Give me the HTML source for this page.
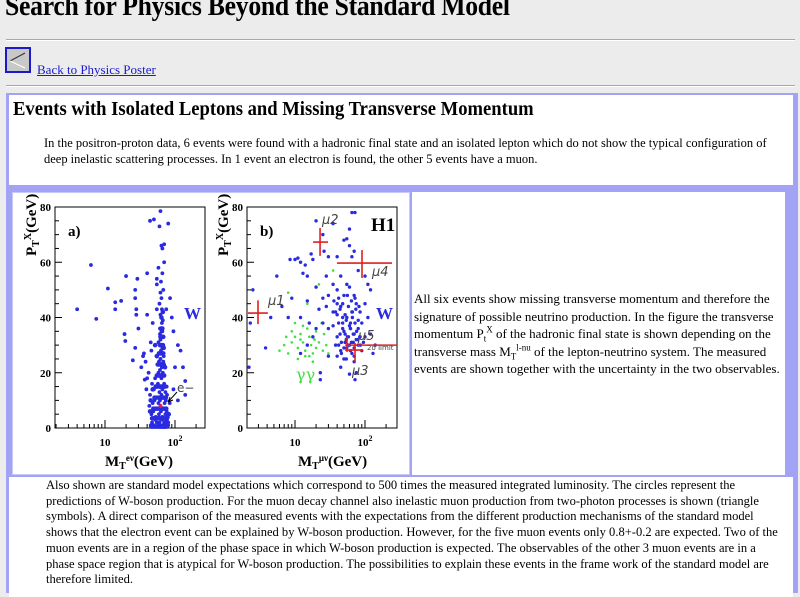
<!DOCTYPE html>
<html><head><meta charset="utf-8">
<style>
html,body{margin:0;padding:0;}
body{width:800px;height:588px;overflow:hidden;background:#ececec;position:relative;font-family:"Liberation Serif",serif;color:#000;}
.abs{position:absolute;}
.hr{position:absolute;left:6px;width:789px;height:0;border-top:1px solid #a8a8a8;border-bottom:1px solid #fff;}
.nl{white-space:nowrap;}
</style></head><body>
<div class="abs nl" style="left:5px;top:-9px;font-size:28px;font-weight:bold;letter-spacing:-0.3px;transform:scaleX(0.917);transform-origin:left;">Search for Physics Beyond the Standard Model</div>
<div class="hr" style="top:39px;"></div>
<div class="abs" style="left:5px;top:47px;width:26px;height:26px;border:2px solid #1a1acc;background:#c8c8c8;box-sizing:border-box;">
<svg width="22" height="22" style="position:absolute;left:0;top:0"><line x1="18" y1="4" x2="3" y2="12" stroke="#333" stroke-width="1"/><line x1="3" y1="12" x2="18" y2="19" stroke="#fff" stroke-width="1"/></svg></div>
<a class="abs nl" style="left:37px;top:62px;font-size:13px;color:#1a1acc;text-decoration:underline;">Back to Physics Poster</a>
<div class="hr" style="top:85px;"></div>

<div class="abs" style="left:6px;top:93px;width:792px;height:500px;background:#a3a3f5;"></div>
<div class="abs" style="left:9px;top:95px;width:784px;height:90px;background:#fff;">
<div class="abs nl" style="left:4px;top:3px;font-size:20px;font-weight:bold;transform:scaleX(0.93);transform-origin:left;">Events with Isolated Leptons and Missing Transverse Momentum</div>
<div class="abs nl" style="left:35px;top:40px;font-size:13px;transform:scaleX(0.96);transform-origin:left;">In the positron-proton data, 6 events were found with a hadronic final state and an isolated lepton which do not show the typical configuration of</div>
<div class="abs nl" style="left:35px;top:56px;font-size:13px;transform:scaleX(0.96);transform-origin:left;">deep inelastic scattering processes. In 1 event an electron is found, the other 5 events have a muon.</div>
</div>
<div class="abs" style="left:12px;top:192px;width:398px;height:283px;background:#fff;border:1px solid #c8c8fa;box-sizing:border-box;"></div>
<div class="abs" style="left:412px;top:192px;width:373px;height:283px;background:#fff;">
<div class="abs nl" style="left:2px;top:98px;font-size:13px;line-height:17.5px;">All six events show missing transverse momentum and therefore the<br>signature of possible neutrino production. In the figure the transverse<br>momentum P<sub style="font-size:9px;line-height:0">t</sub><sup style="font-size:9px;line-height:0">X</sup> of the hadronic final state is shown depending on the<br>transverse mass M<sub style="font-size:9px;line-height:0">T</sub><sup style="font-size:9px;line-height:0">l-nu</sup> of the lepton-neutrino system. The measured<br>events are shown together with the uncertainty in the two observables.</div>
</div>
<div class="abs" style="left:9px;top:477px;width:784px;height:120px;background:#fff;">
<div class="abs nl" style="left:37px;top:0px;font-size:13px;line-height:15.7px;transform:scaleX(0.964);transform-origin:left;">Also shown are standard model expectations which correspond to 500 times the measured integrated luminosity. The circles represent the<br>predictions of W-boson production. For the muon decay channel also inelastic muon production from two-photon processes is shown (triangle<br>symbols). A direct comparison of the measured events with the expectations from the different production mechanisms of the standard model<br>shows that the electron event can be explained by W-boson production. However, for the five muon events only 0.8+-0.2 are expected. Two of the<br>muon events are in a region of the phase space in which W-boson production is expected. The observables of the other 3 muon events are in a<br>phase space region that is atypical for W-boson production. The possibilities to explain these events in the frame work of the standard model are<br>therefore limited.</div>
</div>

<svg id="plot" class="abs" style="left:0;top:0" width="800" height="588" xmlns="http://www.w3.org/2000/svg"></svg>

<script>
// Panel a: electron channel W expectation (MT GeV, PT GeV)
const aBlueX = [4,6.3,7.5,11,14,14,17,19,20,19.5,27,27,28,28,29,27,25,30,33,35,37,39,40,40,45,44,50,55,60,62,64,66,70,80,70,58,55,62,48,55,75,85,95,110,120,130,140,140,110,100,95,90,
 45,47,50,52,55,57,60,62,65,67,70,72,75,78,80,46,49,53,56,59,63,66,69,73,76,79,48,51,54,58,61,64,68,71,74,77,50,53,57,60,63,66,70,73,76,52,55,58,61,64,67,70,56,59,62,65,68,60,63,66,69,58,62,65,68,61,64,67,63,66,65,
 43,44,47,82,84,40,38,36,42,46,60,64,68,63,66,62,65,67,61,64];
const aBlueY = [43,59,39.5,50.5,45.5,43,46,34,55,31.5,50,47,43,41,54,29,24.5,36,22,26,17.5,14,56,41,31,75,75.5,54,73,78.5,66,65,66.5,74,60,58,52,49,38,43,43,47,35,30,28,22,17,12,10,22,14,40,
 1,2,1,3,2,1,2,1,3,1,2,1,3,2,1,5,6,4,7,5,6,4,7,5,6,4,9,10,11,9,10,12,11,9,10,12,14,15,16,13,15,14,16,13,15,18,19,20,21,18,20,19,23,24,25,22,24,27,28,29,26,31,32,33,30,34,35,33,36,35,38,
 8,12,16,5,9,18,24,27,20,28,45,47,50,53,56,41,43,39,36,33];
// Extra dense W-band events in panel a
const aBandX = [46,48,51,53,56,58,61,63,66,68,71,73,76,47,50,54,57,60,64,67,70,74,77,49,52,55,59,62,65,69,72,75,51,54,58,61,64,67,71,74,53,56,60,63,66,69,72,55,58,61,64,67,70,57,60,63,66,69,59,62,65,68,61,64,67,62,65,68,63,66,64,67,44,45,48,79,81,55,72,52,69];
const aBandY = [0.5,0.5,0.5,0.5,0.5,0.5,0.5,0.5,0.5,0.5,0.5,0.5,0.5,3.5,3.5,3.5,3.5,3.5,3.5,3.5,3.5,3.5,3.5,7,7,7,7,7,7,7,7,7,11,11,11,11,11,11,11,11,15,15,15,15,15,15,15,19,19,19,19,19,19,23,23,23,23,23,27,27,27,27,30,30,30,33,33,33,36,36,40,42,6,10,14,2,5,26,22,30,29];
const aElecX = [62];
const aElecY = [8];
// Panel b: muon channel
const bBlueX = [2.2,2.3,2.5,3.8,4.5,5.5,6.5,8,8.5,9,10,11,12,13,14,15,17,20,18,22,23,23,25,26,30,28,30,35,40,40,40,45,50,55,60,50,55,60,65,70,65,72,80,100,110,120,100,110,90,100,120,130,140,75,60,72,50,45,40,35,30,25,20,18,15,12,30,38,42,48,52,58,62,68,70,75,80,85,90,60,55,65,70,45,35,28,55,65,75,85,40,35,25,60,20,15,16,12,45,70,80,95,62,52,48,
 42,46,50,54,58,64,70,78,86,44,50,56,62,68,76,84,48,54,60,66,72,80,38,44,52,58,66,74,36,42,48,56,64,72,82,40,46,54,62,70];
const bBlueY = [22,38,50,29,40,55,44,40,61,47,61,61.5,60,56,59,55,63,75,61,43,20,17.5,47,64,62,55,48,52,50,45,41,44,48,52,51,68,68.5,66,62,64,78,78,57,55,52,50,45,40,38,33,34,27,30,20,19.5,17.5,25,28,33,37,36,38,36,33,30,27,26,30,38,36,34,33,36,31,34,32,30,33,28,30,29,27,24,22,42,44,40,42,45,42,62,74,70,72,51,46,38,40,55,48,36,31,38,31,40,
 30,31,29,32,30,31,29,32,30,34,35,33,36,34,35,33,38,39,37,40,38,39,42,43,41,44,42,43,46,47,45,48,46,47,44,26,27,25,28,26];
const bGreenX = [6,7,8,9,10,11,12,13,14,15,16,17,18,19,20,22,24,26,28,13,9,7.5,11,16,20,25,30,10,8,15,22,35,18,12,14];
const bGreenY = [28,30,27,31,33,29,34,31,28,36,33,30,27,32,35,31,38,34,30,37,35,33,25,26,29,28,27,38,49,45,52,57,24,32,26];
// Measured muon events: centre and error ranges
const muLabels = ["μ1","μ2","μ3","μ4","μ5"];
const muX = [2.96,22.8,72,90.6,55.3];
const muXlo = [2.13,18.1,52,39.8,52];
const muXhi = [4.1,29.6,93.6,243,286];
const muY = [41.6,67.3,28.2,59.7,30];
const muYlo = [37.6,62.3,23.9,54.3,27.5];
const muYhi = [46.2,72.4,30.8,64.4,33];
const yTicks = [0,20,40,60,80];

const NS = "http://www.w3.org/2000/svg";
const svg = document.getElementById('plot');
function mk(tag, attrs, parent){const e=document.createElementNS(NS,tag);for(const k in attrs)e.setAttribute(k,attrs[k]);(parent||svg).appendChild(e);return e;}
const yTop=207, yBot=428;
function yS(v){return yBot-(v/80)*(yBot-yTop);}
function panel(x0,x1,x10){
  return {x0:x0,x1:x1,xS:function(v){return x10+70*(Math.log10(v)-1);}};
}
const pa = panel(55,205,105), pb = panel(247,397,295);

function drawAxes(p, name){
  const g = mk('g',{});
  
  
  const f = mk('rect',{x:p.x0,y:yTop,width:p.x1-p.x0,height:yBot-yTop,fill:'none',stroke:'#000','stroke-width':1},g);
  
  
  for(let v=0; v<=80; v+=5){
    const len = v%20===0?7:4;
    mk('line',{x1:p.x0,x2:p.x0+len,y1:yS(v),y2:yS(v),stroke:'#000','stroke-width':1},g);
  }
  yTicks.forEach(function(t){
    const tx = mk('text',{x:p.x0-4,y:yS(t)+4,'text-anchor':'end','font-size':11,'font-weight':'bold','font-family':'Liberation Serif, serif'},g);
    tx.textContent = t;
    
    
  });
  for(let d=1; d<=100; d*=10){
    for(let m=1;m<10;m++){
      const v=d*m, px=p.xS(v);
      if(px<p.x0||px>p.x1) continue;
      const len = m===1?8:4;
      mk('line',{x1:px,x2:px,y1:yBot,y2:yBot-len,stroke:'#000','stroke-width':1},g);
    }
  }
  const l10 = mk('text',{x:p.xS(10),y:446,'text-anchor':'middle','font-size':11,'font-weight':'bold','font-family':'Liberation Serif, serif'},g);
  l10.textContent='10';
  
  
  const l100 = mk('text',{x:p.xS(100),y:446,'text-anchor':'middle','font-size':11,'font-weight':'bold','font-family':'Liberation Serif, serif'},g);
  l100.innerHTML='10<tspan dy="-5" font-size="8">2</tspan>';
  
  
}
function dots(p, xs, ys, color, r, name){
  const g = mk('g',{fill:color});
  
  
  for(let i=0;i<xs.length;i++){
    const px=p.xS(xs[i]), py=yS(ys[i]);
    if(px<p.x0||px>p.x1) continue;
    const c = mk('circle',{cx:px,cy:py,r:r},g);
    
    
  }
}
drawAxes(pa,'panel-a');
drawAxes(pb,'panel-b');
dots(pa, aBlueX, aBlueY, '#2a2ae0', 1.9, 'panel-a-w-expectation');
dots(pa, aBandX, aBandY, '#2a2ae0', 2.3, 'panel-a-w-band');
dots(pa, aElecX, aElecY, '#e0204a', 2, 'panel-a-electron-event');
dots(pb, bGreenX, bGreenY, '#44dd44', 1.3, 'panel-b-gamma-gamma-expectation');
dots(pb, bBlueX, bBlueY, '#2a2ae0', 1.7, 'panel-b-w-expectation');

for(let i=0;i<muX.length;i++){
  const g = mk('g',{stroke:'#e02020','stroke-width':1.6});
  
  
  const cx=pb.xS(muX[i]), cy=yS(muY[i]);
  mk('line',{x1:pb.xS(muXlo[i]),x2:Math.min(pb.x1,pb.xS(muXhi[i])),y1:cy,y2:cy},g);
  mk('line',{x1:cx,x2:cx,y1:yS(muYlo[i]),y2:yS(muYhi[i])},g);
}
const muLabPos = [[268,305],[322,224],[352,375],[372,276],[358,340]];
muLabels.forEach(function(s,i){
  const t = mk('text',{x:muLabPos[i][0],y:muLabPos[i][1],'font-size':13,fill:'#444','font-style':'italic','font-family':'DejaVu Sans, sans-serif'});
  t.textContent=s;
  
  
});
function txt(x,y,s,attrs,name){
  const a = Object.assign({x:x,y:y,'font-family':'Liberation Serif, serif'},attrs);
  const t = mk('text',a);
  t.innerHTML=s;
  
  
  return t;
}
txt(367,350,'2σ limit',{'font-size':7,fill:'#444','font-family':'DejaVu Sans, sans-serif'},'two-sigma-limit-label');
txt(68,236,'a)',{'font-size':15,'font-weight':'bold'},'panel-a-label');
txt(260,236,'b)',{'font-size':15,'font-weight':'bold'},'panel-b-label');
txt(371,231,'H1',{'font-size':19,'font-weight':'bold'},'h1-logo');
txt(184,319,'W',{'font-size':17,'font-weight':'bold',fill:'#2a2ae0'},'panel-a-w-label');
txt(376,319,'W',{'font-size':17,'font-weight':'bold',fill:'#2a2ae0'},'panel-b-w-label');
txt(296,380,'γγ',{'font-size':16,fill:'#44dd44','font-family':'DejaVu Serif, serif'},'gamma-gamma-label');
txt(177,392,'e−',{'font-size':12,fill:'#444','font-family':'DejaVu Sans, sans-serif'},'electron-label');
const arr = mk('path',{d:'M177 392 L168 402 M168 402 L170 397 M168 402 L173 400',stroke:'#000','stroke-width':1,fill:'none'});


txt(105,466,'M<tspan dy="3" font-size="10">T</tspan><tspan dy="-8" font-size="9">eν</tspan><tspan dy="5">(GeV)</tspan>',{'font-size':15,'font-weight':'bold'},'panel-a-x-title');
txt(298,466,'M<tspan dy="3" font-size="10">T</tspan><tspan dy="-8" font-size="9">μν</tspan><tspan dy="5">(GeV)</tspan>',{'font-size':15,'font-weight':'bold'},'panel-b-x-title');
txt(0,0,'P<tspan dy="3" font-size="10">T</tspan><tspan dy="-8" font-size="10">X</tspan><tspan dy="5">(GeV)</tspan>',{'font-size':15,'font-weight':'bold',transform:'translate(36,256) rotate(-90)'},'panel-a-y-title');
txt(0,0,'P<tspan dy="3" font-size="10">T</tspan><tspan dy="-8" font-size="10">X</tspan><tspan dy="5">(GeV)</tspan>',{'font-size':15,'font-weight':'bold',transform:'translate(228,256) rotate(-90)'},'panel-b-y-title');
</script>
</body></html>
